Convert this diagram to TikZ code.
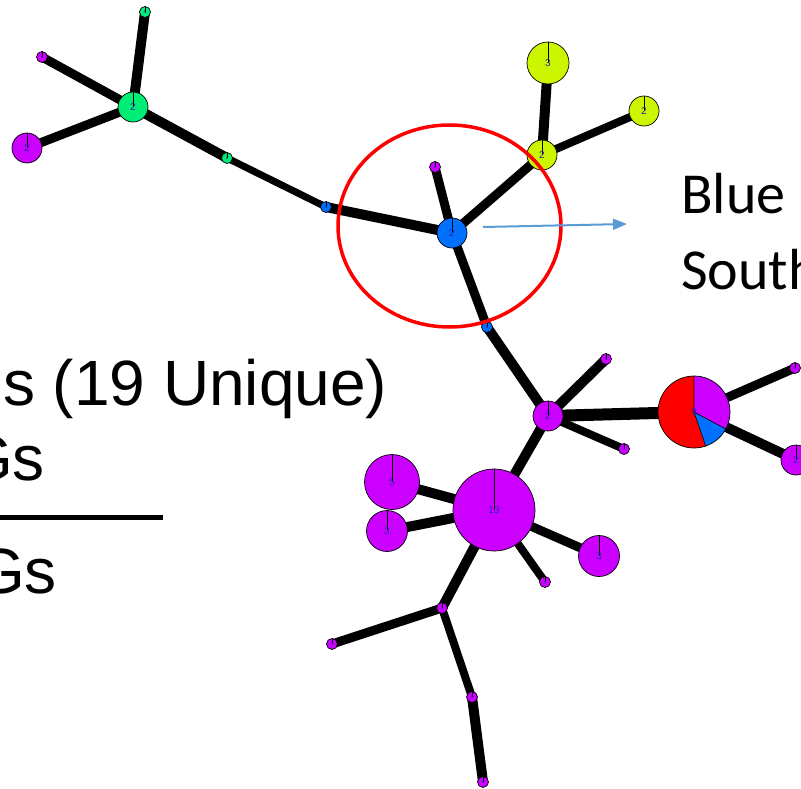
\documentclass[tikz,border=0pt]{standalone}
\usepackage{fontspec}
\setmainfont{Liberation Sans}
\newfontfamily\calib{Carlito}
\usetikzlibrary{arrows.meta,backgrounds}
\definecolor{hgreen}{RGB}{0,238,118}
\definecolor{hpurple}{RGB}{204,0,255}
\definecolor{hyellow}{RGB}{204,245,0}
\definecolor{hblue}{RGB}{0,112,255}
\definecolor{hred}{RGB}{255,0,0}
\definecolor{arrblue}{RGB}{91,155,213}
\definecolor{labcol}{RGB}{40,40,170}
\tikzset{
  hap/.style={circle, draw=black, line width=0.7pt, inner sep=0pt, text=labcol,
    font=\fontsize{10}{10}\selectfont,
    path picture={\draw[line width=0.8pt] (path picture bounding box.north) -- (path picture bounding box.center);}},
  sm/.style={hap, minimum size=11pt, font=\fontsize{5}{5}\selectfont},
  md/.style={hap, minimum size=30pt},
  lnk/.style={line width=#1, black},
  lnk/.default=9pt,
  bigtext/.style={inner sep=0pt, font=\fontsize{64}{70}\selectfont},
  caltext/.style={inner sep=0pt, font=\calib\fontsize{58}{62}\selectfont},
}
\begin{document}
\begin{tikzpicture}[x=1pt,y=-1pt]
\useasboundingbox (0,0) rectangle (801,789);
\clip (0,0) rectangle (801,789);
% nodes
\node[md, fill=hgreen] (g1) at (133,107) {2};
\node[sm, fill=hgreen] (gt) at (145,12) {1};
\node[sm, fill=hpurple] (ptl) at (42,57) {1};
\node[md, fill=hpurple] (pl) at (27,148) {2};
\node[sm, fill=hgreen] (gm) at (227,158) {1};
\node[sm, fill=hblue] (bs1) at (326,207) {1};
\node[md, fill=hblue] (bc) at (452,233) {2};
\node[sm, fill=hpurple] (pa) at (435,167) {1};
\node[md, fill=hyellow] (ym) at (542,155) {2};
\node[hap, minimum size=42pt, fill=hyellow] (y3) at (548,63) {3};
\node[md, fill=hyellow] (yr) at (644,111) {2};
\node[sm, fill=hblue] (bs2) at (487,327) {1};
\node[md, fill=hpurple] (pj) at (548,416) {2};
\node[sm, fill=hpurple] (pu) at (606,359) {1};
\node[sm, fill=hpurple] (plr) at (624,449) {1};
\node[sm, fill=hpurple] (ptr) at (795,368) {1};
\node[md, fill=hpurple] (pfr) at (796,460) {2};
\node[hap, minimum size=82pt, fill=hpurple] (big) at (494,510) {13};
\node[hap, minimum size=55pt, fill=hpurple] (p5) at (392,482) {5};
\node[hap, minimum size=41pt, fill=hpurple] (p3a) at (387,531) {3};
\node[hap, minimum size=41pt, fill=hpurple] (p3b) at (599,556) {3};
\node[sm, fill=hpurple] (psb) at (545,582) {1};
\node[sm, fill=hpurple] (jb) at (442,608) {1};
\node[sm, fill=hpurple] (plb) at (332,644) {1};
\node[sm, fill=hpurple] (pmb) at (472,697) {1};
\node[sm, fill=hpurple] (pbt) at (483,782) {1};
% pie node
\node[circle, minimum size=72pt, inner sep=0pt] (pie) at (694,412) {};
\fill[hred] (pie.center) -- ++(71:36) arc[start angle=71, end angle=270, radius=36] -- cycle;
\fill[hblue] (pie.center) -- ++(28:36) arc[start angle=28, end angle=71, radius=36] -- cycle;
\fill[hpurple] (pie.center) -- ++(-90:36) arc[start angle=-90, end angle=28, radius=36] -- cycle;
\draw[line width=0.6pt] (pie.center) -- ++(71:36) (pie.center) -- ++(28:36) (pie.center) -- ++(-90:36);
\draw[line width=0.7pt] (pie.center) circle[radius=36];
\node[text=labcol, font=\fontsize{10}{10}\selectfont, inner sep=0pt] at (pie.center) {9};
% edges
\begin{pgfonlayer}{background}
\draw[lnk=10pt] (g1.center) -- (gt.center);
\draw[lnk=9pt] (g1.center) -- (ptl.center);
\draw[lnk=9pt] (g1.center) -- (pl.center);
\draw[lnk=10pt] (g1.center) -- (gm.center);
\draw[lnk=7pt] (gm.center) -- (bs1.center);
\draw[lnk=10pt] (bs1.center) -- (bc.center);
\draw[lnk=9pt] (bc.center) -- (pa.center);
\draw[lnk=9pt] (bc.center) -- (ym.center);
\draw[lnk=10pt] (ym.center) -- (y3.center);
\draw[lnk=8pt] (ym.center) -- (yr.center);
\draw[lnk=9pt] (bc.center) -- (bs2.center);
\draw[lnk=10pt] (bs2.center) -- (pj.center);
\draw[lnk=10pt] (pj.center) -- (pu.center);
\draw[lnk=12pt] (pj.center) -- (pie.center);
\draw[lnk=8pt] (pj.center) -- (plr.center);
\draw[lnk=10pt] (pj.center) -- (big.center);
\draw[lnk=9pt] (pie.center) -- (ptr.center);
\draw[lnk=10pt] (pie.center) -- (pfr.center);
\draw[lnk=10pt] (big.center) -- (p5.center);
\draw[lnk=10pt] (big.center) -- (p3a.center);
\draw[lnk=9pt] (big.center) -- (p3b.center);
\draw[lnk=8pt] (big.center) -- (psb.center);
\draw[lnk=10pt] (big.center) -- (jb.center);
\draw[lnk=9pt] (jb.center) -- (plb.center);
\draw[lnk=8pt] (jb.center) -- (pmb.center);
\draw[lnk=10pt] (pmb.center) -- (pbt.center);
\end{pgfonlayer}
% highlight
\draw[hred, line width=3.5pt] (449.5,226) ellipse[x radius=111.5, y radius=101];
\coordinate (as) at (483,227);
\coordinate (ae) at (627,224);
\draw[arrblue, line width=2pt, -{Triangle[length=14pt,width=11pt]}] (as) -- (ae);
% texts
\node[caltext, anchor=base west] (tblue) at (681,214) {Blue};
\node[caltext, anchor=base west] (tsouth) at (681,289) {South};
\node[bigtext, anchor=base west] (tuniq) at (3,405) {s (19 Unique)};
\node[bigtext, anchor=base east] (tgs1) at (45,480) {Gs};
\node[bigtext, anchor=base east] (tgs2) at (57,593) {Gs};
\draw[line width=5pt] (0,517) -- (163,517);
\end{tikzpicture}
\end{document}
